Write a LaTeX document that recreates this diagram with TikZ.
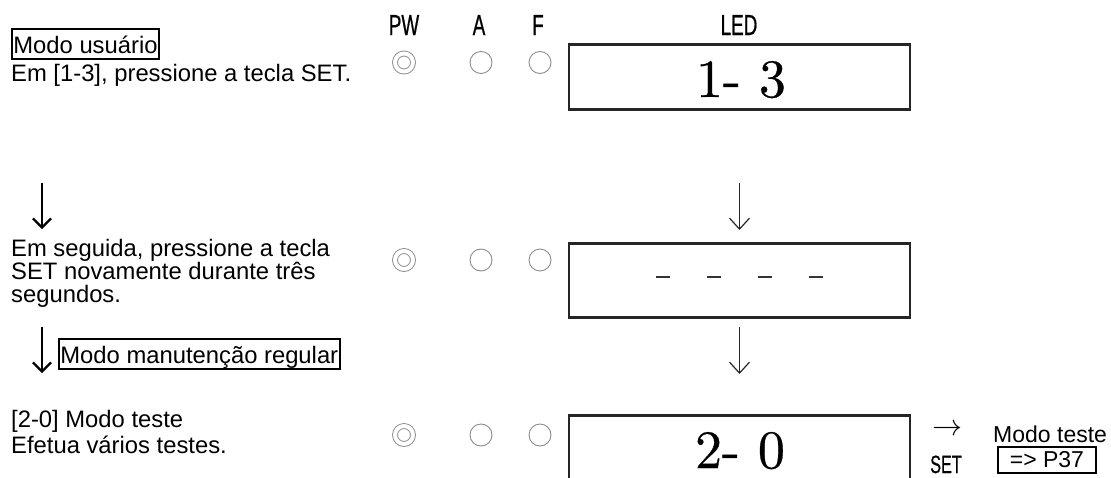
\RequirePackage{fix-cm}
\documentclass[tikz,border=0pt]{standalone}
\usepackage{fontspec}
\newfontfamily\arial{Liberation Sans}
\newfontfamily\cond[FakeStretch=0.65,FakeBold=0.6]{Liberation Sans}
\newfontfamily\numfont[FakeBold=0.5]{lmroman10-regular.otf}
\usetikzlibrary{arrows.meta}
\tikzset{
  txt/.style={font=\arial\fontsize{23.8}{23.8}\selectfont, inner sep=0pt, anchor=base west},
  para/.style={font=\arial\fontsize{23.8}{#1}\selectfont, inner sep=0pt, anchor=north west, align=left},
  tagbox/.style={draw=black, line width=1.8pt, font=\arial\fontsize{23.8}{23.8}\selectfont,
     inner xsep=1.5pt, inner ysep=0pt, text height=24pt, text depth=6pt, anchor=base west},
  lbl/.style={font=\cond\fontsize{29}{29}\selectfont, inner sep=0pt, anchor=base},
  ledbox/.style={draw=black!85, line width=2.5pt, minimum width=341pt, inner sep=0pt, anchor=north},
  lamp/.style={circle, draw=black!45, line width=0.9pt, minimum size=22pt, inner sep=0pt},
  pwlamp/.style={circle, draw=black!45, line width=0.9pt, double=white, double distance=4pt,
     minimum size=18pt, inner sep=0pt},
  num/.style={font=\numfont\fontsize{54}{54}\selectfont, inner sep=0pt,
     anchor=base, text depth=0pt},
  larrow/.style={line width=2.2pt, -{Straight Barb[length=9pt,width=18pt]}},
  rarrow/.style={line width=1.2pt, black!85, -{Straight Barb[length=11pt,width=20pt]}},
  dashmark/.style={line width=2.6pt, black!80},
}
\begin{document}
\begin{tikzpicture}[x=1pt,y=-1pt]
\useasboundingbox (0,0) rectangle (1111,477);
% left column
\node[tagbox] (user) at (11,53) {Modo usuário};
\node[txt] (t1) at (11,81) {Em [1-3], pressione a tecla SET.};
\node[para=23] (t2) at (11,239) {Em seguida, pressione a tecla\\SET novamente durante três\\segundos.};
\node[tagbox] (maint) at (58,363) {Modo manutenção regular};
\node[para=26] (t3) at (11,410) {[2-0] Modo teste\\Efetua vários testes.};
\coordinate (la1s) at (42,183);
\coordinate (la1e) at (42,229);
\coordinate (la2s) at (42,327);
\coordinate (la2e) at (42,373);
\draw[larrow] (la1s) -- (la1e);
\draw[larrow] (la2s) -- (la2e);
% header labels
\node[lbl] (pw) at (404,35) {PW};
\node[lbl] (a) at (479,35) {A};
\node[lbl] (f) at (538,35) {F};
\node[lbl] (led) at (739,35) {LED};
% row 1
\node[pwlamp] (pw1) at (404,62.5) {};
\node[lamp] (a1) at (481,62.5) {};
\node[lamp] (f1) at (540,62.5) {};
\node[ledbox, minimum height=65pt] (box1) at (739.5,43) {};
\node[num] (n1) at (741,97) {1- 3};
% row 2
\node[pwlamp] (pw2) at (404,260) {};
\node[lamp] (a2) at (481,260) {};
\node[lamp] (f2) at (540,260) {};
\node[ledbox, minimum height=74pt] (box2) at (739.5,242) {};
\foreach \x in {663,714,765,816}{\draw[dashmark] (\x-7,277) -- (\x+7,277);}
% row 3
\node[pwlamp] (pw3) at (404,435) {};
\node[lamp] (a3) at (481,435) {};
\node[lamp] (f3) at (540,435) {};
\node[ledbox, minimum height=67pt] (box3) at (739.5,414) {};
\node[num] (n3) at (740,468) {2- 0};
% right arrows
\coordinate (ra1s) at (739.5,183);
\coordinate (ra1e) at (739.5,230);
\coordinate (ra2s) at (739.5,327);
\coordinate (ra2e) at (739.5,374);
\draw[rarrow] (ra1s) -- (ra1e);
\draw[rarrow] (ra2s) -- (ra2e);
% SET -> Modo teste
\node[inner sep=0pt, font=\fontsize{30}{30}\selectfont] (arr) at (947,430) {$\rightarrow$};
\node[lbl, font=\cond\fontsize{25}{25}\selectfont] (set) at (946,473) {SET};
\node[txt, font=\arial\fontsize{23}{23}\selectfont] (mt) at (993,442) {Modo teste};
\node[draw=black, line width=1.8pt, minimum width=98pt, minimum height=26pt, inner sep=0pt,
      anchor=north west, font=\arial\fontsize{23}{23}\selectfont] (p37) at (997,446) {=> P37};
\end{tikzpicture}
\end{document}
